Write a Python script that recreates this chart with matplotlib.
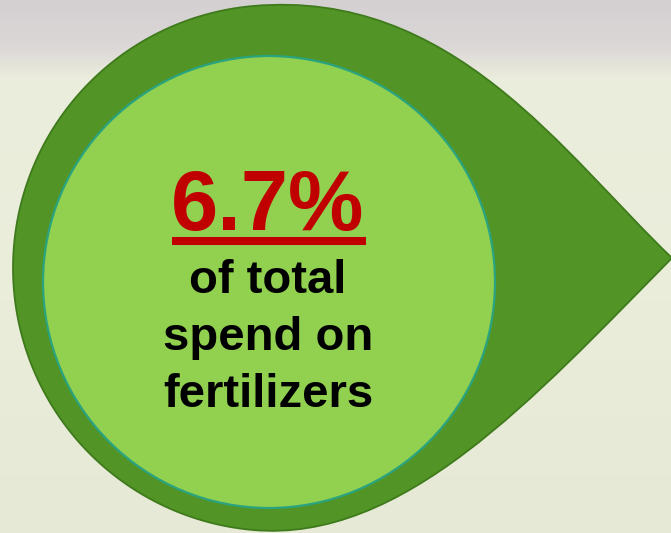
import numpy as np
import matplotlib
matplotlib.use("Agg")
import matplotlib.pyplot as plt
from matplotlib.path import Path
from matplotlib.patches import PathPatch, Circle
from matplotlib.colors import to_rgb

# text content
headline = "6.7%"
caption_lines = ["of total", "spend on", "fertilizers"]

# geometry of the pin shape (pixel units, y down)
outer_center = (276, 268)
outer_radius = 263
tip = (672, 258)
inner_center = (269, 282)
inner_radius = 226

W, H = 671, 533
fig = plt.figure(figsize=(W / 100, H / 100), dpi=100)
ax = fig.add_axes([0, 0, 1, 1])
ax.set_xlim(0, W)
ax.set_ylim(H, 0)
ax.axis("off")

# blurred photo-like background: grey at top, pale green below
stops = [(0, "#d4d0d1"), (45, "#dbd7d7"), (80, "#eceedd"), (300, "#eaedda"), (533, "#e6e9d5")]
ys = np.arange(H)
cols = np.array([to_rgb(c) for _, c in stops])
pos = np.array([p for p, _ in stops])
grad = np.stack([np.interp(ys, pos, cols[:, k]) for k in range(3)], axis=1)
img = np.repeat(grad[:, None, :], W, axis=1)
ax.imshow(img, extent=(0, W, H, 0), zorder=0)


def circ_pt(a):
    cx, cy = outer_center
    t = np.radians(a)
    return np.array([cx + outer_radius * np.cos(t), cy - outer_radius * np.sin(t)])


a_up, a_low = 95, 265
p_up = circ_pt(a_up)
p_low = circ_pt(a_low)
tip_pt = np.array(tip, dtype=float)
t_up = np.array([np.sin(np.radians(a_up)), np.cos(np.radians(a_up))])
d_in = np.array([0.72, 0.69])
d_out = np.array([-0.70, 0.71])
t_low = np.array([-np.sin(np.radians(a_low)) * -1, 0])
t_low = np.array([-0.996, -0.087])

verts = [p_up, p_up + 200 * t_up, tip_pt - 150 * d_in, tip_pt,
         tip_pt + 200 * d_out, p_low - 150 * t_low, p_low]
codes = [Path.MOVETO, Path.CURVE4, Path.CURVE4, Path.CURVE4,
         Path.CURVE4, Path.CURVE4, Path.CURVE4]
for a in np.linspace(a_low, a_up, 120)[1:]:
    verts.append(circ_pt(a))
    codes.append(Path.LINETO)
verts.append(p_up)
codes.append(Path.CLOSEPOLY)

outer = PathPatch(Path(np.array(verts), codes), facecolor="#529425",
                  edgecolor="#3f7a1c", lw=1.3, zorder=2)
ax.add_patch(outer)

inner = Circle(inner_center, inner_radius, facecolor="#92d050",
               edgecolor="#2aa37f", lw=1.6, zorder=3)
ax.add_patch(inner)

cx = inner_center[0] - 1
font = "Liberation Sans"
ax.text(cx, 230, headline, color="#c00000", fontsize=61, fontweight="bold",
        family=font, ha="center", va="baseline", zorder=4)
ax.plot([172, 366], [241, 241], color="#c00000", lw=5.8, solid_capstyle="butt", zorder=4)

baselines = [293, 350, 407]
for line, yb in zip(caption_lines, baselines):
    ax.text(cx, yb, line, color="black", fontsize=34, fontweight="bold",
            family=font, ha="center", va="baseline", zorder=4)

fig.savefig("out.png", dpi=100)
